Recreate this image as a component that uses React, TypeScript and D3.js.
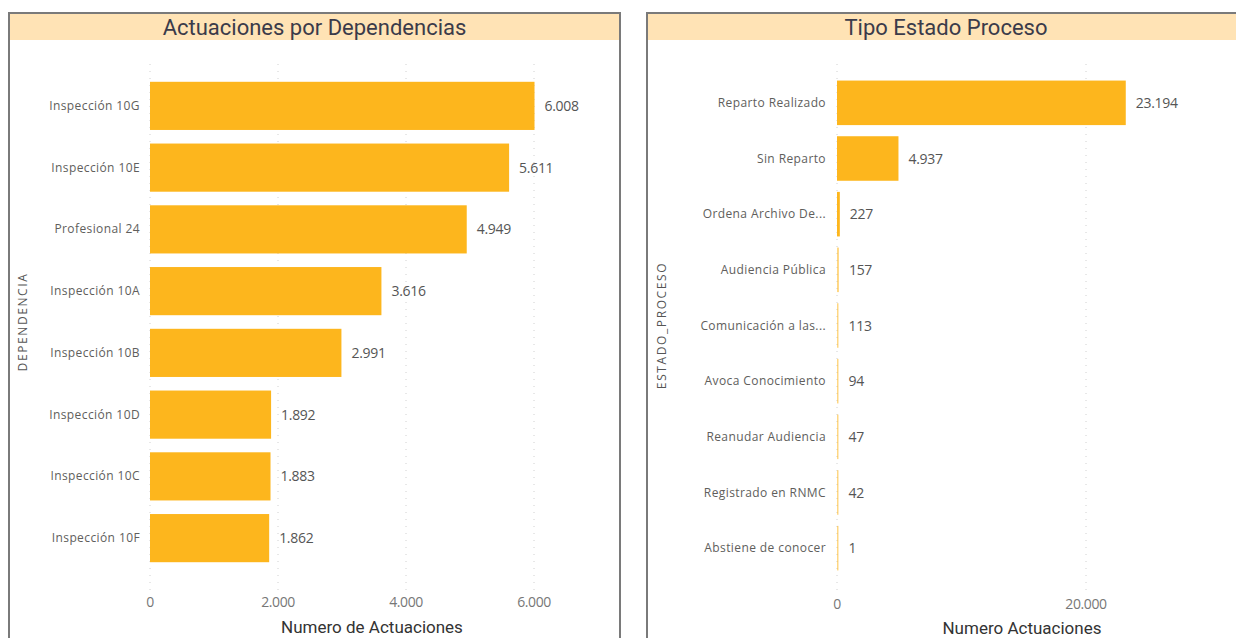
import React from "react";
import * as d3 from "d3";

const depCategories = ["Inspección 10G", "Inspección 10E", "Profesional 24", "Inspección 10A", "Inspección 10B", "Inspección 10D", "Inspección 10C", "Inspección 10F"];
const depValues = [6008, 5611, 4949, 3616, 2991, 1892, 1883, 1862];
const depTicks = [0, 2000, 4000, 6000];

const estCategories = ["Reparto Realizado", "Sin Reparto", "Ordena Archivo De...", "Audiencia Pública", "Comunicación a las...", "Avoca Conocimiento", "Reanudar Audiencia", "Registrado en RNMC", "Abstiene de conocer"];
const estValues = [23194, 4937, 227, 157, 113, 94, 47, 42, 1];
const estTicks = [0, 20000];

const fmt = (v: number) => d3.format(",")(v).replace(/,/g, ".");

const BAR = "#FDB61D";
const LABEL = "#605E5C";

type PanelProps = {
  x0: number; x1: number; title: string; cats: string[]; vals: number[]; ticks: number[];
  xRange: [number, number]; domainMax: number; yRange: [number, number]; pad: number;
  labelX: number; yTitle: string; yTitleX: number; xTitle: string; xTitleX: number; tickY: number; xTitleY: number;
};

function Panel(p: PanelProps) {
  const x = d3.scaleLinear().domain([0, p.domainMax]).range(p.xRange);
  const y = d3.scaleBand<string>().domain(p.cats).range(p.yRange).paddingInner(p.pad).paddingOuter(p.pad / 2);
  return (
    <g>
      <rect x={p.x0} y={13} width={p.x1 - p.x0} height={640} fill="#fff" stroke="#7a7a7a" strokeWidth={2} />
      <rect x={p.x0 + 1} y={14} width={p.x1 - p.x0 - 2} height={26} fill="#FFE3B5" />
      <text x={(p.x0 + p.x1) / 2} y={35} textAnchor="middle" fontFamily="Roboto, sans-serif" fontSize={22} fill="#3b3b4a">{p.title}</text>
      {p.ticks.map((t) => (
        <line key={"g" + t} x1={x(t)} x2={x(t)} y1={64} y2={592} stroke="#d0d0d0" strokeWidth={1} strokeDasharray="1,6" />
      ))}
      {p.cats.map((c, i) => {
        const w = Math.max(x(p.vals[i]) - x(0), 1.5);
        return (
          <g key={c}>
            <rect x={x(0)} y={y(c)!} width={w} height={y.bandwidth()} fill={BAR} opacity={p.vals[i] < 200 ? 0.55 : 1} />
            <text x={x(0) + w + 10} y={y(c)! + y.bandwidth() / 2 + 5} fontFamily="'Open Sans', sans-serif" fontSize={14} fill="#555" letterSpacing={-0.3}>{fmt(p.vals[i])}</text>
            <text x={p.labelX} y={y(c)! + y.bandwidth() / 2 + 4} textAnchor="end" fontFamily="'Open Sans', sans-serif" fontSize={12} fill={LABEL} letterSpacing={0.4}>{c}</text>
          </g>
        );
      })}
      {p.ticks.map((t) => (
        <text key={"t" + t} x={x(t)} y={p.tickY} textAnchor="middle" fontFamily="'Open Sans', sans-serif" fontSize={14} fill="#777" letterSpacing={-0.4}>{fmt(t)}</text>
      ))}
      <text x={p.xTitleX} y={p.xTitleY} textAnchor="middle" fontFamily="Roboto, sans-serif" fontSize={17} fill="#333">{p.xTitle}</text>
      <text transform={`translate(${p.yTitleX},${(p.yRange[0] + p.yRange[1]) / 2}) rotate(-90)`} textAnchor="middle" fontFamily="'Open Sans', sans-serif" fontSize={12} fill="#555" letterSpacing={1.6}>{p.yTitle}</text>
    </g>
  );
}

export default function App() {
  return (
    <svg width={1236} height={638} style={{ position: "absolute", left: 0, top: 0 }}>
      <rect width={1236} height={638} fill="#fff" />
      <Panel x0={9} x1={620} title="Actuaciones por Dependencias" cats={depCategories} vals={depValues} ticks={depTicks}
        xRange={[150, 534]} domainMax={6000} yRange={[75, 569]} pad={0.22} labelX={140}
        yTitle="DEPENDENCIA" yTitleX={27} xTitle="Numero de Actuaciones" xTitleX={372} tickY={607} xTitleY={633} />
      <Panel x0={647} x1={1245} title="Tipo Estado Proceso" cats={estCategories} vals={estValues} ticks={estTicks}
        xRange={[837, 1086]} domainMax={20000} yRange={[75, 576]} pad={0.2} labelX={826}
        yTitle="ESTADO_PROCESO" yTitleX={666} xTitle="Numero Actuaciones" xTitleX={1022} tickY={609} xTitleY={634} />
    </svg>
  );
}
